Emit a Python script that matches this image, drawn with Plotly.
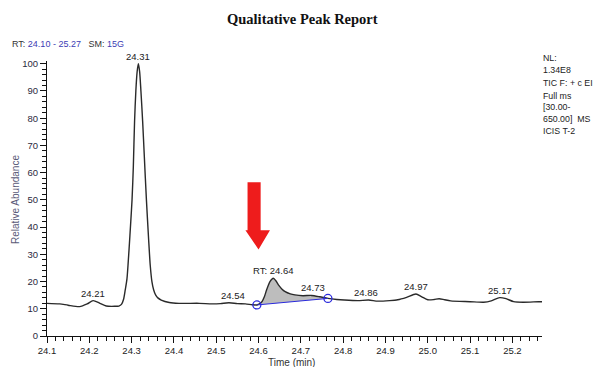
import numpy as np
import plotly.graph_objects as go

# ---- data ----
time_min = [24.100, 24.130, 24.150, 24.177, 24.195, 24.209, 24.225, 24.240, 24.260, 24.270,
            24.276, 24.281, 24.285, 24.289, 24.294, 24.298, 24.301, 24.304, 24.307, 24.310,
            24.313, 24.316, 24.319, 24.322, 24.326, 24.330, 24.335, 24.340, 24.344, 24.348,
            24.352, 24.357, 24.362, 24.370, 24.389, 24.412, 24.460, 24.490, 24.510, 24.530,
            24.550, 24.569, 24.585, 24.596, 24.608, 24.614, 24.619, 24.627, 24.635, 24.641,
            24.647, 24.655, 24.663, 24.675, 24.686, 24.705, 24.725, 24.745, 24.764, 24.785,
            24.803, 24.835, 24.860, 24.882, 24.910, 24.929, 24.950, 24.972, 24.985, 25.000,
            25.015, 25.027, 25.040, 25.054, 25.100, 25.132, 25.150, 25.170, 25.185, 25.203,
            25.226, 25.262, 25.270]
abundance = [12.0, 11.8, 11.3, 10.8, 11.8, 13.0, 12.0, 11.0, 10.9, 11.0,
             11.6, 13.5, 17.0, 21.0, 32.0, 42.0, 50.0, 62.0, 79.0, 90.0,
             97.0, 100.0, 97.0, 90.0, 79.0, 66.0, 50.0, 36.0, 26.0, 20.0,
             17.0, 15.0, 14.0, 13.2, 12.3, 12.0, 12.0, 11.8, 11.9, 12.2,
             11.9, 11.8, 11.5, 11.4, 12.6, 14.5, 16.9, 20.0, 21.2, 20.3,
             18.75, 17.3, 16.3, 15.5, 15.1, 14.8, 14.9, 14.4, 13.8, 13.4,
             13.2, 13.0, 13.2, 12.8, 13.0, 13.3, 14.2, 15.4, 14.5, 13.3,
             13.4, 13.7, 13.3, 12.9, 12.6, 12.4, 12.9, 14.1, 13.7, 12.6,
             12.4, 12.6, 12.6]

# integrated peak baseline (start, end)
base_x = [24.596, 24.764]
base_y = [11.4, 13.8]

# peak labels
label_text = ["24.21", "24.31", "24.54", "RT: 24.64", "24.73", "24.86", "24.97", "25.17"]
label_x = [24.209, 24.316, 24.540, 24.635, 24.729, 24.855, 24.972, 25.170]
label_y = [13.0, 100.0, 12.2, 21.2, 14.9, 13.2, 15.4, 14.1]

info_lines = ["NL:", "1.34E8", "TIC F: + c EI", "Full ms", "[30.00-", "650.00]&nbsp;&nbsp;MS", "ICIS T-2"]

# ---- layout constants ----
W, H = 595, 367
ML, MR, MT, MB = 47, 53, 61, 31
PW, PH = W - ML - MR, H - MT - MB
FONT = "Liberation Sans, Arial, sans-serif"


def px_x(p):
    return (p - ML) / PW


def px_y(p):
    return (H - MB - p) / PH


t = np.array(time_min)
a = np.array(abundance)

fig = go.Figure()

# shaded integrated area
m = (t >= base_x[0]) & (t <= base_x[1])
poly_x = list(t[m]) + base_x[::-1]
poly_y = list(a[m]) + base_y[::-1]
fig.add_trace(go.Scatter(x=poly_x, y=poly_y, mode="lines", fill="toself",
                         fillcolor="#bdbdbd", line=dict(width=0), hoverinfo="skip"))

# chromatogram
fig.add_trace(go.Scatter(x=time_min, y=abundance, mode="lines",
                         line=dict(color="#2a2a2a", width=1.4, shape="spline", smoothing=0.7)))

# baseline with endpoints
fig.add_trace(go.Scatter(x=base_x, y=base_y, mode="lines+markers",
                         line=dict(color="#2b2bdc", width=1),
                         marker=dict(symbol="circle-open", size=8, color="#2b2bdc",
                                     line=dict(width=1.3, color="#2b2bdc"))))

# peak labels
for txt, lx, ly in zip(label_text, label_x, label_y):
    fig.add_annotation(x=lx, y=ly, text=txt, showarrow=False, yanchor="bottom",
                       xanchor="center", yshift=0,
                       font=dict(family=FONT, size=9.5, color="#222"))

# red arrow (annotation graphic, in data coords)
sx0, sx1 = 24.574, 24.605
hx0, hx1, tipx = 24.569, 24.627, 24.600
sy_top, sy_neck, tipy = 56.5, 38.8, 31.8
path = (f"M {sx0},{sy_top} L {sx1},{sy_top} L {sx1},{sy_neck} L {hx1},{sy_neck} "
        f"L {tipx},{tipy} L {hx0},{sy_neck} L {sx0},{sy_neck} Z")
fig.add_shape(type="path", path=path, xref="x", yref="y",
              fillcolor="#ee1c1c", line=dict(width=0))

# title and header texts
fig.add_annotation(x=px_x(302), y=px_y(19), xref="paper", yref="paper",
                   xanchor="center", yanchor="middle",
                   text="<b>Qualitative Peak Report</b>", showarrow=False,
                   font=dict(family="Liberation Serif, Times New Roman, serif", size=14.5, color="#111"))
fig.add_annotation(x=px_x(10), y=px_y(44), xref="paper", yref="paper",
                   xanchor="left", yanchor="middle",
                   text=("<span style='color:#333'>RT:</span> <span style='color:#3c3cb4'>24.10 - 25.27</span>"
                         "&nbsp;&nbsp;&nbsp;<span style='color:#333'>SM:</span> "
                         "<span style='color:#3c3cb4'>15G</span>"),
                   showarrow=False, font=dict(family=FONT, size=9))

info_y = [58, 70, 83, 96, 107, 119, 131]
for line, yy in zip(info_lines, info_y):
    fig.add_annotation(x=px_x(541), y=px_y(yy), xref="paper", yref="paper",
                       xanchor="left", yanchor="middle", text=line, showarrow=False,
                       font=dict(family=FONT, size=8.8, color="#222"))

# axis titles
fig.add_annotation(x=px_x(16), y=px_y(200), xref="paper", yref="paper",
                   xanchor="center", yanchor="middle",
                   text="Relative Abundance", textangle=-90, showarrow=False,
                   font=dict(family=FONT, size=10, color="#5a5a78"))
fig.add_annotation(x=px_x(291), y=px_y(362), xref="paper", yref="paper",
                   xanchor="center", yanchor="middle",
                   text="Time (min)", showarrow=False,
                   font=dict(family=FONT, size=10, color="#333"))

fig.update_layout(
    width=W, height=H, margin=dict(l=ML, r=MR, t=MT, b=MB),
    paper_bgcolor="white", plot_bgcolor="white", showlegend=False,
)
fig.update_xaxes(range=[24.1, 25.27], tick0=24.1, dtick=0.1, tickformat=".1f",
                 showgrid=False, zeroline=False, showline=True, linecolor="#111", linewidth=1,
                 ticks="outside", ticklen=6, tickcolor="#111",
                 minor=dict(dtick=0.02, tick0=24.1, ticks="outside", ticklen=4, tickcolor="#111"),
                 tickfont=dict(family=FONT, size=9.5, color="#222"))
fig.update_yaxes(range=[0, 101], tick0=0, dtick=10,
                 showgrid=False, zeroline=False, showline=True, linecolor="#111", linewidth=1,
                 ticks="outside", ticklen=6, tickcolor="#111",
                 minor=dict(dtick=2, tick0=0, ticks="outside", ticklen=4, tickcolor="#111"),
                 tickfont=dict(family=FONT, size=9.5, color="#2a2a40"))

fig.write_html("out.html")
